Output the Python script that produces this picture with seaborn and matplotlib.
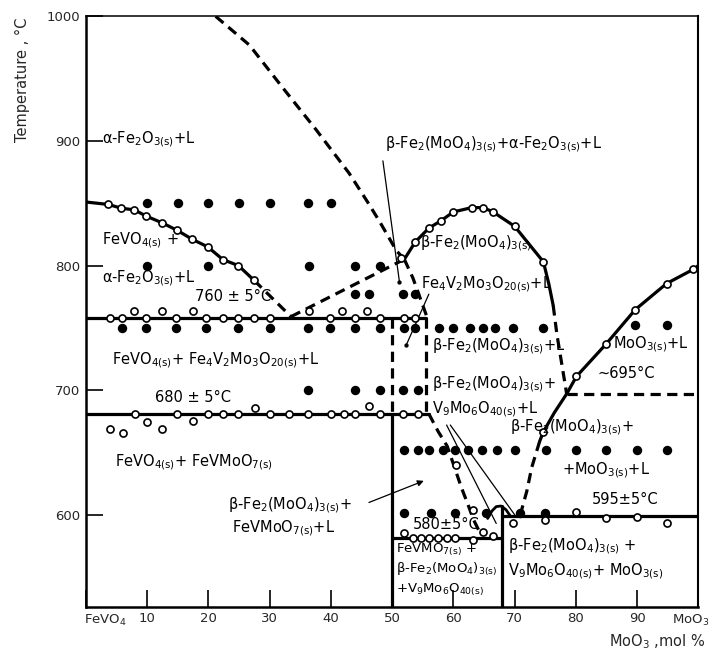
import matplotlib
matplotlib.use("Agg")
import matplotlib.pyplot as plt
import seaborn as sns
from matplotlib.transforms import ScaledTranslation

# ---------------- data ----------------
x_ticks = [0, 10, 20, 30, 40, 50, 60, 70, 80, 90, 100]
x_ticklabels = ['FeVO$_4$', '10', '20', '30', '40', '50', '60', '70', '80', '90', 'MoO$_3$']
y_ticks = [600, 700, 800, 900, 1000]
y_ticklabels = ['600', '700', '800', '900', '1000']
y_min, y_max = 526, 1000

# liquidus / boundary curves (MoO3 mol %, temperature C)
fe2o3_liq_x = [21.2, 26.7, 32.1, 37.6, 43.0, 46.0, 48.0, 50.7, 52.0]
fe2o3_liq_y = [1000, 977, 943, 909, 874, 851, 835, 812, 805]
fevo4_liq_x = [0, 3.7, 5.8, 7.9, 9.9, 12.4, 14.9, 17.4, 19.9, 22.4, 24.9, 27.5]
fevo4_liq_y = [851, 849, 846, 844.7, 839.6, 834.4, 828.3, 821, 815, 804.7, 800, 788]
fevo4_dash_x = [27.5, 33.5]
fevo4_dash_y = [788, 759]
eut_peri_x = [33.5, 52.0]
eut_peri_y = [759, 805]
dome_x = [52.0, 53.8, 56.0, 58.0, 60.0, 63.0, 64.8, 66.4, 70.0, 74.7, 75.6, 76.3]
dome_y = [805, 819, 830, 836, 843, 846.5, 846.5, 843.3, 831.5, 803, 785, 768]
dome_dash_x = [76.3, 76.9, 77.5, 78.0, 78.5]
dome_dash_y = [768, 745, 727, 712, 697]
peri_dash_x = [52.0, 53.4, 55.6]
peri_dash_y = [805, 790, 760]
low_dash_x = [56.0, 57.5, 59.0, 60.2, 61.3, 62.4, 63.3, 64.3]
low_dash_y = [681, 667, 655, 638, 622, 608, 596, 586]
moo3_liq_x = [100, 99.2, 94.8, 89.7, 84.9, 80.1, 78.5, 76.5, 74.7, 74.1]
moo3_liq_y = [800, 797, 785.5, 764.6, 736.8, 711, 697, 682, 666.5, 659]
moo3_dash_x = [74.1, 72.8, 72.0, 71.1, 70.5]
moo3_dash_y = [659, 638, 619, 603, 598]
arc_x = [65.6, 66.3, 67.0, 67.8, 68.6, 69.3]
arc_y = [597, 603, 606.5, 607, 604, 599]

# invariant lines
t_760, t_680, t_580, t_595, t_695 = 758, 680.5, 581, 599, 697
h760_x = [0, 55.6]
h680_x = [0, 56.0]
h580_x = [50, 68]
h595_x = [68, 100]
h695_x = [78.5, 100]
v50_x, v50_top = 50, 680.5
v556_x = 55.6
v68_x, v68_top = 68, 607

# pointer lines
ptr1_x, ptr1_y = [48.5, 51.2], [884, 787]
ptr2_x, ptr2_y = [56.0, 52.3], [777, 736]
ptr4_x, ptr4_y = [58.9, 67.0], [672, 593]
ptr5_x, ptr5_y = [59.5, 70.3], [672, 598]

# experimental points: filled = liquid present
f850_x = [10, 15, 20, 25, 30, 36.3, 40]
f800_x = [10, 20, 36.5, 44, 48]
f777_x = [44, 46.2, 51.8, 53.8]
f750_x = [5.9, 9.9, 14.8, 19.7, 24.9, 30.1, 36.3, 39.9, 43.9, 48.0, 51.9, 53.8,
          57.7, 59.9, 62.7, 64.9, 66.8, 69.8, 74.6]
f752_x = [89.7, 94.8]
f700_x = [36.2, 44, 48, 51.8, 54.2]
f652_x = [52, 54.2, 56.1, 58.3, 60.2, 62.4, 64.6, 67.1, 70.0, 75.1, 80.1, 85.0, 90.0, 94.9]
f601_x = [52, 56.4, 60.3, 65.4, 70.9, 75.0]

# open circles (thermal effects)
o_liq_x = [3.7, 5.8, 7.9, 9.9, 12.4, 14.9, 17.4, 19.9, 22.4, 24.9, 27.5]
o_liq_y = [849, 846, 844.7, 839.6, 834.4, 828.3, 821, 815, 804.7, 800, 788]
o760_x = [3.9, 5.9, 9.8, 14.8, 19.7, 22.4, 24.9, 27.5, 30.0, 39.9, 43.9, 48.0, 51.9, 53.8]
o763_x = [7.9, 12.5, 17.5, 36.5, 41.9, 45.9]
o680_x = [8.1, 14.9, 19.9, 22.4, 24.9, 30.1, 33.2, 36.2, 40, 42.2, 44, 48, 51.8, 54.2]
o_misc_x = [27.7, 46.2, 3.9, 6.1, 10, 12.5, 17.5, 60.4, 63.2]
o_misc_y = [685.5, 687.6, 668.7, 665.2, 674.4, 668.7, 675.2, 640, 604]
o_dome_x = [51.5, 53.8, 56.0, 58.0, 60.0, 63.0, 64.8, 66.4, 70.0, 74.7]
o_dome_y = [806, 819, 830, 836, 843, 846.5, 846.5, 843.3, 831.5, 803]
o_moo3_x = [99.2, 94.8, 89.7, 84.9, 80.1, 74.7]
o_moo3_y = [797, 785.5, 764.6, 736.8, 711, 666.5]
o580_x = [52, 53.4, 54.8, 56.1, 57.5, 58.9, 60.2, 63.2, 64.9, 66.5]
o580_y = [585.5, 581, 581, 581, 581, 581, 581, 580, 586, 583]
o595_x = [69.8, 75, 80.1, 85, 90, 94.9]
o595_y = [593, 596, 602, 597, 598, 593]

# ---------------- figure ----------------
sns.set_style("ticks")
plt.rcParams['font.family'] = ['DejaVu Sans']
plt.rcParams['mathtext.default'] = 'regular'

fig = plt.figure(figsize=(7.09, 6.54), dpi=100)
ax = fig.add_axes([0.121, 0.072, 0.864, 0.903])

K = 'black'
THICK = 2.3
DASH = (0, (3.2, 2.0))


def line(xs, ys, lw=THICK, ls='-'):
    sns.lineplot(x=xs, y=ys, sort=False, estimator=None, color=K, lw=lw,
                 linestyle=ls, ax=ax, legend=False, zorder=2)


# solid boundaries
line(fevo4_liq_x, fevo4_liq_y)
line(dome_x, dome_y)
line(moo3_liq_x, moo3_liq_y)
line(arc_x, arc_y, lw=2.0)
line(h760_x, [t_760, t_760])
line(h680_x, [t_680, t_680])
line(h580_x, [t_580, t_580])
line(h595_x, [t_595, t_595])
line([v50_x, v50_x], [v50_top, y_min])
line([v68_x, v68_x], [v68_top, y_min])

# dashed boundaries
line(fe2o3_liq_x, fe2o3_liq_y, ls=DASH)
line(fevo4_dash_x, fevo4_dash_y, ls=DASH)
line(eut_peri_x, eut_peri_y, ls=DASH)
line(dome_dash_x, dome_dash_y, ls=DASH)
line(peri_dash_x, peri_dash_y, ls=DASH)
line([v50_x, v50_x], [t_760, t_680], ls=DASH)
line([v556_x, v556_x], [t_760, t_680], ls=DASH)
line(low_dash_x, low_dash_y, ls=DASH)
line(moo3_dash_x, moo3_dash_y, ls=DASH)
line(h695_x, [t_695, t_695], ls=DASH)

# thin pointers
for px, py in [(ptr1_x, ptr1_y), (ptr2_x, ptr2_y), (ptr4_x, ptr4_y), (ptr5_x, ptr5_y)]:
    line(px, py, lw=0.9)
sns.scatterplot(x=[ptr1_x[-1], ptr2_x[-1]], y=[ptr1_y[-1], ptr2_y[-1]], color=K, s=8,
                edgecolor=K, ax=ax, zorder=3, legend=False)
ax.annotate('', xy=(55.6, 628), xytext=(45.8, 609),
            arrowprops=dict(arrowstyle='-|>', lw=0.9, color=K, mutation_scale=9))

# filled points
FS = 46
for xs, t in [(f850_x, 850), (f800_x, 800), (f777_x, 777), (f750_x, 750),
              (f752_x, 752), (f700_x, 700), (f652_x, 652), (f601_x, 601)]:
    sns.scatterplot(x=xs, y=[t] * len(xs), color=K, s=FS, edgecolor=K,
                    linewidth=0, ax=ax, zorder=4, legend=False)

# open circles
OS = 26


def circles(xs, ys):
    sns.scatterplot(x=xs, y=ys, color='white', edgecolor=K, s=OS,
                    linewidth=1.2, ax=ax, zorder=5, legend=False)


circles(o_liq_x, o_liq_y)
circles(o760_x, [t_760] * len(o760_x))
circles(o763_x, [763.5] * len(o763_x))
circles(o680_x, [t_680] * len(o680_x))
circles(o_misc_x, o_misc_y)
circles(o_dome_x, o_dome_y)
circles(o_moo3_x, o_moo3_y)
circles(o580_x, o580_y)
circles(o595_x, o595_y)

# ---------------- labels ----------------
B = r'β-Fe$_2$(MoO$_4$)$_{3(s)}$'
FS_T = 10.5
labels = [
    (2.6, 901, r'α-Fe$_2$O$_{3(s)}$+L'),
    (48.8, 897, B + r'+α-Fe$_2$O$_{3(s)}$+L'),
    (2.6, 820, r'FeVO$_{4(s)}$ +'),
    (2.6, 790, r'α-Fe$_2$O$_{3(s)}$+L'),
    (17.8, 775, '760 ± 5°C'),
    (54.5, 818, B),
    (54.7, 785, r'Fe$_4$V$_2$Mo$_3$O$_{20(s)}$+L'),
    (4.3, 724, r'FeVO$_{4(s)}$+ Fe$_4$V$_2$Mo$_3$O$_{20(s)}$+L'),
    (56.5, 735, B + '+L'),
    (86.0, 736.5, r'MoO$_{3(s)}$+L'),
    (83.6, 713, '~695°C'),
    (56.5, 705, B + '+'),
    (56.5, 685, r'V$_9$Mo$_6$O$_{40(s)}$+L'),
    (11.3, 694, '680 ± 5°C'),
    (4.7, 642, r'FeVO$_{4(s)}$+ FeVMoO$_{7(s)}$'),
    (69.2, 670, B + '+'),
    (77.7, 636, r'+MoO$_{3(s)}$+L'),
    (82.6, 612, '595±5°C'),
    (23.2, 608, B + '+'),
    (23.9, 589, r'FeVMoO$_{7(s)}$+L'),
    (53.4, 592, '580±5°C'),
    (68.9, 575, B + ' +'),
    (68.9, 554.5, r'V$_9$Mo$_6$O$_{40(s)}$+ MoO$_{3(s)}$'),
]
for x, y, s in labels:
    ax.text(x, y, s, ha='left', va='center', fontsize=FS_T, color=K, zorder=6)
small = [
    (50.6, 572, r'FeVMO$_{7(s)}$ +'),
    (50.6, 556, B),
    (50.6, 539.5, r'+V$_9$Mo$_6$O$_{40(s)}$'),
]
for x, y, s in small:
    ax.text(x, y, s, ha='left', va='center', fontsize=9.5, color=K, zorder=6)

# ---------------- axes ----------------
ax.set_xlim(0, 100)
ax.set_ylim(y_min, y_max)
ax.set_xticks(x_ticks)
ax.set_xticklabels(x_ticklabels)
ax.set_yticks(y_ticks)
ax.set_yticklabels(y_ticklabels)
ax.tick_params(axis='both', direction='in', length=12, width=1.4, labelsize=9.5, pad=4)
ax.set_xlabel('')
ax.set_ylabel('')
for side, w in [('left', 1.8), ('bottom', 1.8), ('right', 1.5), ('top', 1.1)]:
    ax.spines[side].set_visible(True)
    ax.spines[side].set_linewidth(w)
    ax.spines[side].set_color(K)

xl = ax.get_xticklabels()
xl[0].set_horizontalalignment('left')
xl[0].set_transform(xl[0].get_transform() + ScaledTranslation(-0.02, 0, fig.dpi_scale_trans))
xl[-1].set_horizontalalignment('right')
xl[-1].set_transform(xl[-1].get_transform() + ScaledTranslation(0.11, 0, fig.dpi_scale_trans))

fig.text(22 / 709, 1 - 80 / 654, 'Temperature , °C', rotation=90, ha='center', va='center',
         fontsize=10.5)
fig.text(705 / 709, 1 - 642 / 654, 'MoO$_3$ ,mol %', ha='right', va='center', fontsize=10.5)

fig.savefig('out.png', dpi=100)
